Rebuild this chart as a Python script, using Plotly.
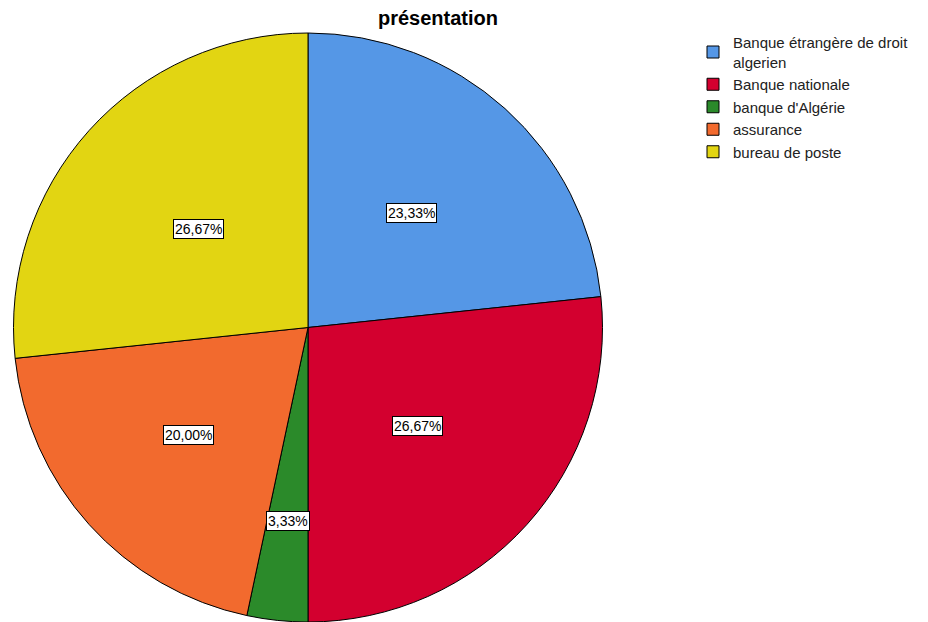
import math
import plotly.graph_objects as go

categories = ["Banque étrangère de droit<br>algerien", "Banque nationale", "banque d'Algérie", "assurance", "bureau de poste"]
percentages = [23.33, 26.67, 3.33, 20.00, 26.67]
colors = ["#5597E6", "#D3002F", "#2B8A2A", "#F26A2E", "#E2D512"]
title_text = "présentation"

W, H = 928, 622
dom_x = [12 / W, 604 / W]
dom_y = [0.0, 1 - 33 / H]

fig = go.Figure(go.Pie(
    labels=categories,
    values=percentages,
    sort=False,
    direction="clockwise",
    rotation=0,
    marker=dict(colors=colors, line=dict(color="black", width=1)),
    textinfo="none",
    hoverinfo="label+percent",
    domain=dict(x=dom_x, y=dom_y),
))

# label boxes, positioned from the data (smaller slices -> labels further out)
pw = (dom_x[1] - dom_x[0]) * W
ph = (dom_y[1] - dom_y[0]) * H
r = min(pw, ph) / 2
cx = (dom_x[0] + dom_x[1]) / 2 * W
cy = (1 - (dom_y[0] + dom_y[1]) / 2) * H
total = sum(percentages)
vmax = max(percentages)
cum = 0
for v in percentages:
    mid = (cum + v / 2) / total * 2 * math.pi
    cum += v
    f = 0.5 + 0.0069 * (vmax - v)
    px = cx + f * r * math.sin(mid)
    py = cy - f * r * math.cos(mid)
    fig.add_annotation(
        x=px / W, y=1 - py / H, xref="paper", yref="paper",
        xanchor="center", yanchor="middle",
        text=f"{v:.2f}%".replace(".", ","), showarrow=False,
        font=dict(family="Liberation Sans, Arial, sans-serif", size=14, color="black"),
        bgcolor="white", bordercolor="black", borderwidth=1, borderpad=1,
    )

fig.update_layout(
    width=W, height=H,
    margin=dict(l=0, r=0, t=0, b=0),
    paper_bgcolor="white",
    font=dict(family="Liberation Sans, Arial, sans-serif", color="black"),
    title=dict(text="<b>" + title_text + "</b>", x=438 / W, xanchor="center",
               y=1 - 18 / H, yanchor="middle",
               font=dict(size=20, color="black")),
    legend=dict(x=693 / W, y=1 - 26 / H, xanchor="left", yanchor="top",
                font=dict(size=15, color="#222"), tracegroupgap=0,
                bgcolor="rgba(0,0,0,0)"),
)

fig.write_html("out.html", config={"displayModeBar": False},
               post_script="document.body.style.margin='0';")
